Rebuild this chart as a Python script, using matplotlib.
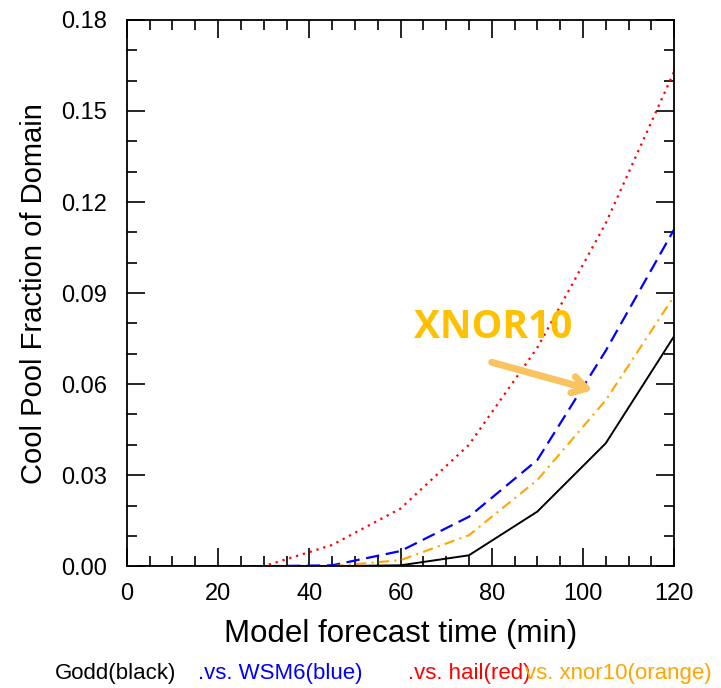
import matplotlib
matplotlib.use("Agg")
import matplotlib.pyplot as plt
from matplotlib.ticker import MultipleLocator, FixedFormatter, FixedLocator

# Forecast times (min) and cool-pool fractions for each microphysics scheme
times = [0, 15, 30, 45, 60, 75, 90, 105, 120]
godd = [0.0, 0.0, 0.0, 0.0, 0.0003, 0.0036, 0.018, 0.0405, 0.0758]
wsm6 = [0.0, 0.0, 0.0, 0.0003, 0.005, 0.0163, 0.035, 0.071, 0.111]
hail = [0.0, 0.0, 0.0, 0.007, 0.019, 0.040, 0.072, 0.113, 0.163]
xnor10 = [0.0, 0.0, 0.0, 0.0, 0.002, 0.0102, 0.0284, 0.0547, 0.089]

xticks = [0, 20, 40, 60, 80, 100, 120]
yticks = [0.0, 0.03, 0.06, 0.09, 0.12, 0.15, 0.18]
ytick_labels = ["0.00", "0.03", "0.06", "0.09", "0.12", "0.15", "0.18"]

plt.rcParams["font.family"] = ["Liberation Sans", "DejaVu Sans"]

fig = plt.figure(figsize=(7.21, 6.88), dpi=100)
ax = fig.add_axes([0.176, 0.177, 0.759, 0.794])

ax.plot(times, godd, color="black", lw=1.4, ls="-")
ax.plot(times, wsm6, color="#0000ff", lw=1.6, ls=(0, (6, 3)))
ax.plot(times, hail, color="#ff0000", lw=1.6, ls=(0, (1, 2.2)))
ax.plot(times, xnor10, color="#ffa500", lw=1.5, ls=(0, (5, 2.5, 1, 2.5)))

ax.set_xlim(0, 120)
ax.set_ylim(0, 0.18)
ax.xaxis.set_major_locator(FixedLocator(xticks))
ax.xaxis.set_minor_locator(MultipleLocator(5))
ax.yaxis.set_major_locator(FixedLocator(yticks))
ax.yaxis.set_major_formatter(FixedFormatter(ytick_labels))
ax.yaxis.set_minor_locator(MultipleLocator(0.01))

ax.tick_params(which="both", direction="in", top=True, right=True,
               labelsize=17, width=1.2, color="black")
ax.tick_params(which="major", length=13)
ax.tick_params(axis="x", which="major", pad=12)
ax.tick_params(axis="y", which="major", pad=14)
ax.tick_params(which="minor", length=7)
for s in ax.spines.values():
    s.set_linewidth(1.3)

ax.set_xlabel("Model forecast time (min)", fontsize=22.5, labelpad=10)
ax.set_ylabel("Cool Pool Fraction of Domain", fontsize=21, labelpad=10)

# Scheme legend written as coloured text under the axis title
ly = 1 - 673 / 688
fig.text(55 / 721, ly, "Godd(black)", color="black", fontsize=16, va="center")
fig.text(198 / 721, ly, ".vs. WSM6(blue)", color="#0000ff", fontsize=16, va="center")
fig.text(408 / 721, ly, ".vs. hail(red)", color="#ff0000", fontsize=16, va="center")
fig.text(525 / 721, ly, "vs. xnor10(orange)", color="#ffa500", fontsize=16, va="center")

# Callout for the XNOR10 curve
ax.text(80.3, 0.0785, "XNOR10", color="#ffc000", fontsize=28, fontweight="bold",
        family=["Open Sans", "DejaVu Sans"], ha="center", va="center")
ax.annotate("", xy=(102.2, 0.0580), xytext=(80.0, 0.0672),
            arrowprops=dict(arrowstyle="->,head_length=1.0,head_width=0.6",
                            color="#f9c35f", lw=5, shrinkA=0, shrinkB=0,
                            capstyle="round", joinstyle="round"))

fig.savefig("out.png", dpi=100)
